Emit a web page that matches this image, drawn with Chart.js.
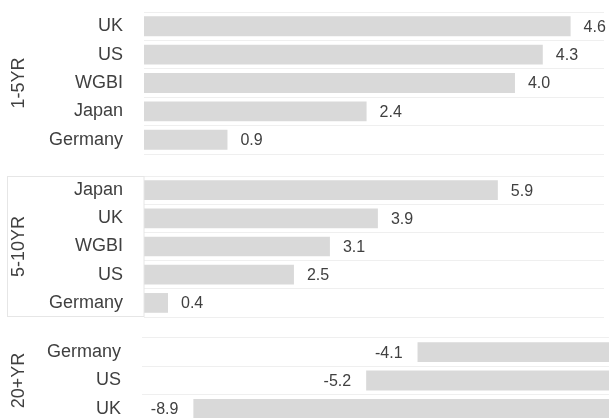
<!DOCTYPE html>
<html>
<head>
<meta charset="utf-8">
<script src="https://cdn.jsdelivr.net/npm/chart.js@4"></script>
<style>
  html, body { margin: 0; padding: 0; background: #fff; overflow: hidden; }
  #wrap { position: relative; width: 616px; height: 418px; overflow: hidden; }
  .panel { position: absolute; left: 0; width: 616px; }
</style>
</head>
<body>
<div id="wrap">
  <div class="panel" style="top:0px;height:160px"><canvas id="c1"></canvas></div>
  <div class="panel" style="top:164px;height:159px"><canvas id="c2"></canvas></div>
  <div class="panel" style="top:326px;height:103px"><canvas id="c3"></canvas></div>
</div>
<script>
const groupTitles = ['1-5YR', '5-10YR', '20+YR'];

const shortLabels = ['UK', 'US', 'WGBI', 'Japan', 'Germany'];
const shortValues = [4.6, 4.3, 4.0, 2.4, 0.9];

const midLabels = ['Japan', 'UK', 'WGBI', 'US', 'Germany'];
const midValues = [5.9, 3.9, 3.1, 2.5, 0.4];

const longLabels = ['Germany', 'US', 'UK'];
const longValues = [-4.1, -5.2, -8.9];

const textColor = '#404040';
const fontFamily = "'Liberation Sans', Arial, sans-serif";

// writes the value next to the end of each bar
const valueLabels = {
  id: 'valueLabels',
  afterDatasetsDraw(chart) {
    const ctx = chart.ctx;
    const meta = chart.getDatasetMeta(0);
    const data = chart.data.datasets[0].data;
    ctx.save();
    ctx.font = '16px ' + fontFamily;
    ctx.fillStyle = textColor;
    ctx.textBaseline = 'middle';
    meta.data.forEach((bar, i) => {
      const v = data[i];
      if (v >= 0) {
        ctx.textAlign = 'left';
        ctx.fillText(v.toFixed(1), bar.x + 13, bar.y + 1);
      } else {
        ctx.textAlign = 'right';
        ctx.fillText(v.toFixed(1), bar.x - 15, bar.y + 1);
      }
    });
    ctx.restore();
  }
};

// faint outline round the label column of the middle panel
const labelBox = {
  id: 'labelBox',
  afterDraw(chart) {
    const a = chart.chartArea;
    const ctx = chart.ctx;
    ctx.save();
    ctx.strokeStyle = '#e6e6e6';
    ctx.lineWidth = 1;
    ctx.strokeRect(7.5, a.top + 0.5, a.left - 7.5, a.bottom - a.top - 1);
    ctx.restore();
  }
};

function panel(id, title, labels, values, xmin, xmax, axisWidth, rightPad, plugins) {
  return new Chart(document.getElementById(id), {
    type: 'bar',
    data: {
      labels,
      datasets: [{
        data: values,
        backgroundColor: '#d9d9d9',
        borderWidth: 0,
        barPercentage: 0.7,
        categoryPercentage: 1.0
      }]
    },
    options: {
      indexAxis: 'y',
      responsive: true,
      maintainAspectRatio: false,
      animation: false,
      layout: { padding: { top: 12, bottom: 6, left: 0, right: rightPad } },
      plugins: { legend: { display: false }, tooltip: { enabled: false } },
      scales: {
        x: { display: false, min: xmin, max: xmax },
        y: {
          grid: { offset: true, color: '#efefef', drawTicks: false },
          border: { display: false },
          ticks: { color: textColor, font: { size: 18, family: fontFamily }, padding: 21 },
          title: {
            display: true, text: title, color: textColor,
            font: { size: 18, family: fontFamily },
            padding: { top: 8, bottom: 0 }
          },
          afterFit(scale) {
            scale.width = axisWidth;
            scale.paddingTop = 0;
            scale.paddingBottom = 0;
          }
        }
      }
    },
    plugins
  });
}

panel('c1', groupTitles[0], shortLabels, shortValues, 0, 4.96, 144, 12, [valueLabels]);
panel('c2', groupTitles[1], midLabels, midValues, 0, 7.67, 144, 12, [valueLabels, labelBox]);
panel('c3', groupTitles[2], longLabels, longValues, -10, 0, 142, 7, [valueLabels]);
</script>
</body>
</html>
